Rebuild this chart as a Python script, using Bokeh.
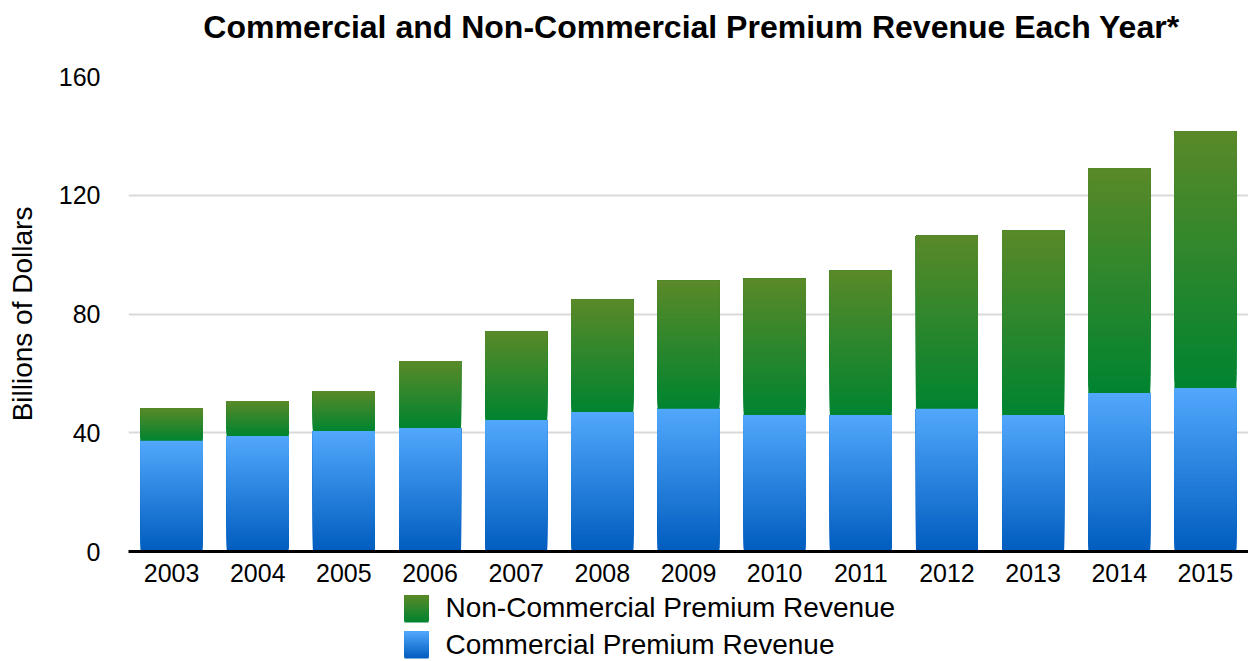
import numpy as np
from bokeh.plotting import figure
from bokeh.models import FixedTicker, Range1d, FactorRange
from bokeh.layouts import column
from bokeh.embed import file_html
from bokeh.resources import INLINE
from bokeh.core.properties import value

# ---- data (billions of dollars) ----
years = ["2003", "2004", "2005", "2006", "2007", "2008", "2009",
         "2010", "2011", "2012", "2013", "2014", "2015"]
commercial = [37.3, 38.9, 40.6, 41.6, 44.3, 47.0, 48.1, 46.0, 46.0, 48.1, 46.0, 53.4, 55.1]
non_commercial = [10.8, 11.8, 13.5, 22.6, 29.7, 37.8, 43.1, 45.9, 48.6, 58.3, 62.1, 75.6, 86.4]
y_ticks = [0, 40, 80, 120, 160]
series_names = ["Non-Commercial Premium Revenue", "Commercial Premium Revenue"]
title_text = "Commercial and Non-Commercial Premium Revenue Each Year*"
y_label = "Billions of Dollars"

# ---- styles ----
FONT = "Liberation Sans"
BLUE_TOP, BLUE_BOT = (82, 168, 252), (0, 92, 190)
GREEN_TOP, GREEN_BOT = (90, 137, 40), (0, 132, 48)
NSLICE = 40
BAR_W = 0.72
W = 1248
LEFT = 128
FRAME_W = W - LEFT


def mix(top, bot, f):
    # f = 0 at bottom, 1 at top
    return "#%02x%02x%02x" % tuple(int(round(b + (t - b) * f)) for t, b in zip(top, bot))


def blank_fig(h):
    f = figure(x_range=Range1d(0, FRAME_W), y_range=Range1d(h, 0),
               width=W, height=h, output_backend="svg", toolbar_location=None,
               min_border_left=LEFT, min_border_right=0,
               min_border_top=0, min_border_bottom=0)
    f.axis.visible = False
    f.grid.visible = False
    f.outline_line_color = None
    return f


# ---- title strip ----
TH = 48
tf = blank_fig(TH)
tf.text(x=[FRAME_W / 2 + 3], y=[26], text=[title_text],
        text_font=value(FONT), text_font_size="32px", text_font_style="bold",
        text_align="center", text_baseline="alphabetic", text_color="black")

# ---- main chart ----
com = np.array(commercial, dtype=float)
non = np.array(non_commercial, dtype=float)

p = figure(x_range=FactorRange(factors=years, range_padding=0),
           y_range=Range1d(0, 160),
           width=W, height=544,
           output_backend="svg", toolbar_location=None,
           min_border_left=LEFT, min_border_right=0,
           min_border_top=28, min_border_bottom=41)
p.outline_line_color = None
p.background_fill_color = "white"
p.border_fill_color = "white"


def gradient_bars(bottoms, tops, ctop, cbot):
    xs, bs, ts, cs = [], [], [], []
    for k in range(NSLICE):
        f0 = k / NSLICE
        fm = (k + 0.5) / NSLICE
        for yr, b, t in zip(years, bottoms, tops):
            xs.append(yr)
            bs.append(b + (t - b) * f0)
            ts.append(t)
            cs.append(mix(ctop, cbot, fm))
    p.vbar(x=xs, bottom=bs, top=ts, width=BAR_W, fill_color=cs, line_color=None)


gradient_bars(np.zeros_like(com), com, BLUE_TOP, BLUE_BOT)
gradient_bars(com, com + non, GREEN_TOP, GREEN_BOT)

p.xgrid.grid_line_color = None
p.ygrid.grid_line_color = "#d9d9d9"
p.ygrid.grid_line_width = 2
p.yaxis.ticker = FixedTicker(ticks=y_ticks)
p.yaxis.axis_line_color = None
p.yaxis.major_tick_line_color = None
p.yaxis.minor_tick_line_color = None
p.yaxis.major_tick_out = 0
p.yaxis.major_label_standoff = 28
p.yaxis.major_label_text_font = FONT
p.yaxis.major_label_text_font_size = "25px"
p.yaxis.major_label_text_color = "black"
p.yaxis.axis_label = y_label
p.yaxis.axis_label_text_font = FONT
p.yaxis.axis_label_text_font_size = "28px"
p.yaxis.axis_label_text_font_style = "normal"
p.yaxis.axis_label_text_color = "black"
p.yaxis.axis_label_standoff = 18

p.xaxis.axis_line_color = "black"
p.xaxis.axis_line_width = 3
p.xaxis.major_tick_line_color = None
p.xaxis.minor_tick_line_color = None
p.xaxis.major_tick_out = 0
p.xaxis.major_label_standoff = 12
p.xaxis.major_label_text_font = FONT
p.xaxis.major_label_text_font_size = "25px"
p.xaxis.major_label_text_color = "black"

# ---- legend strip ----
LH = 69
lg = blank_fig(LH)
sw_left, sw_w, sw_h = 276, 24, 27
row_tops = [3, 39]
baselines = [15, 52]
text_x = 317
grads = [(GREEN_TOP, GREEN_BOT), (BLUE_TOP, BLUE_BOT)]
for name, rt, bl, (ct, cb) in zip(series_names, row_tops, baselines, grads):
    lefts, rights, tops_, bots_, cols = [], [], [], [], []
    for k in range(NSLICE):
        f0 = k / NSLICE
        fm = (k + 0.5) / NSLICE
        lefts.append(sw_left)
        rights.append(sw_left + sw_w)
        bots_.append(rt + sw_h - sw_h * f0)
        tops_.append(rt)
        cols.append(mix(ct, cb, fm))
    lg.quad(left=lefts, right=rights, top=tops_, bottom=bots_,
            fill_color=cols, line_color=None)
    lg.text(x=[text_x], y=[bl], text=[name],
            text_font=value(FONT), text_font_size="28px",
            text_baseline="alphabetic", text_align="left", text_color="black")

layout = column(tf, p, lg, spacing=0)
open("out.html", "w").write(file_html(layout, INLINE))
